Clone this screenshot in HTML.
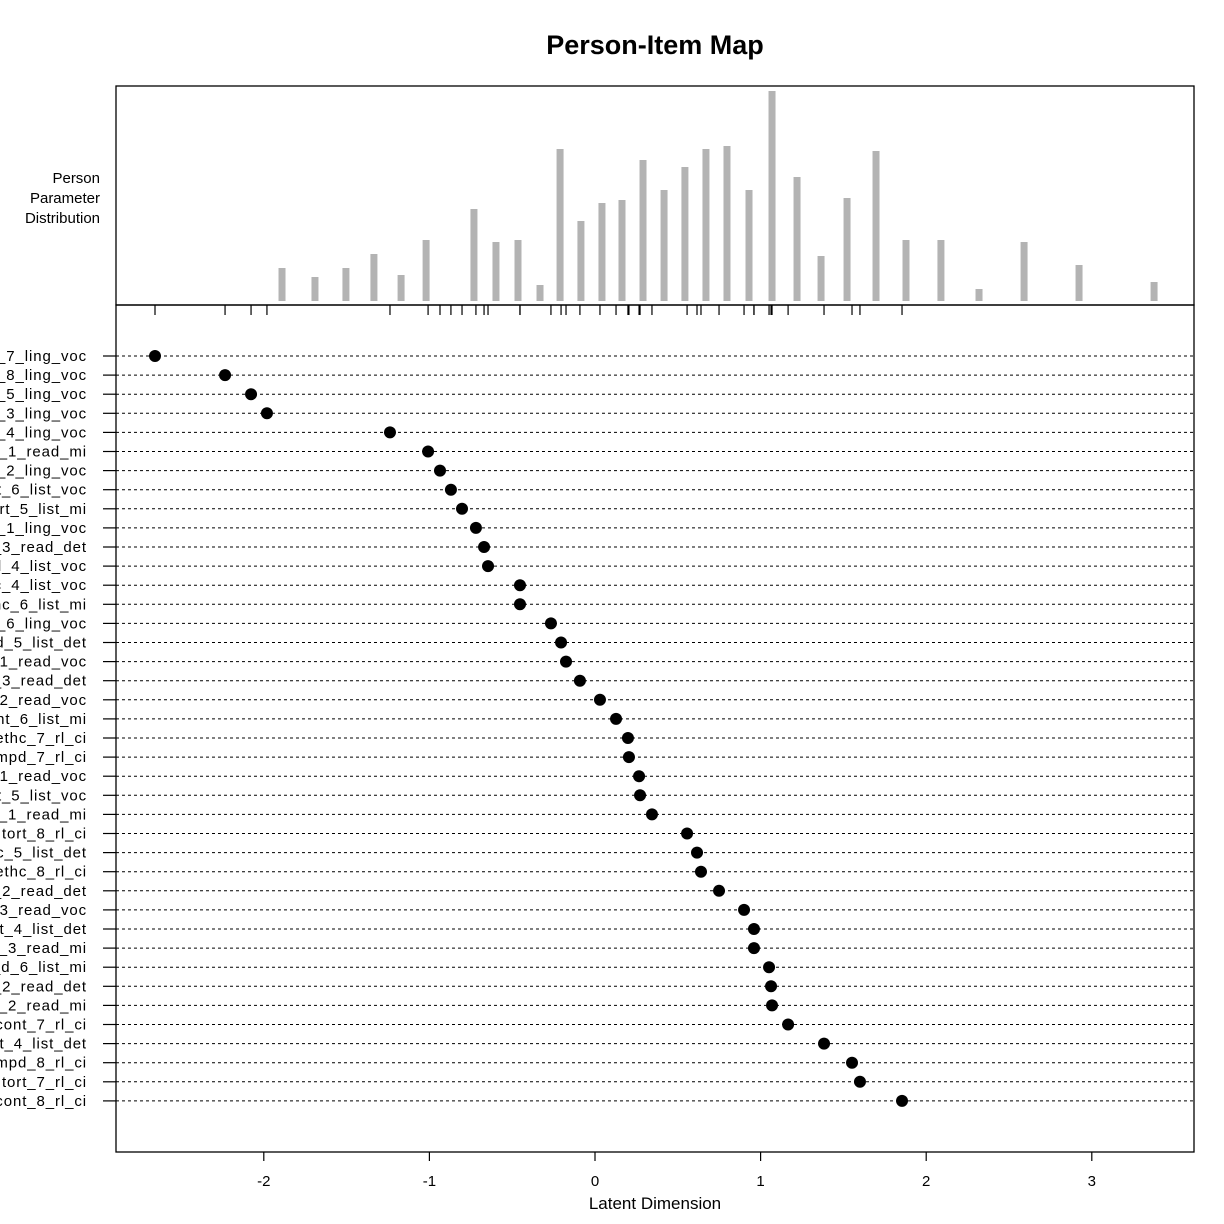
<!DOCTYPE html>
<html><head><meta charset="utf-8"><style>
body{margin:0;background:#fff;overflow:hidden;}
svg{display:block;font-family:"Liberation Sans",Arial,sans-serif;}
</style></head><body>
<svg id="chart" width="1224" height="1224" viewBox="0 0 1224 1224" xmlns="http://www.w3.org/2000/svg">
<text x="655" y="54" text-anchor="middle" font-size="27" font-weight="bold">Person-Item Map</text>
<rect x="116" y="86" width="1078" height="219" fill="none" stroke="#000" stroke-width="1.3"/>
<rect x="116" y="305" width="1078" height="847" fill="none" stroke="#000" stroke-width="1.3"/>
<g font-size="15" text-anchor="end">
<text x="100" y="183">Person</text><text x="100" y="203">Parameter</text><text x="100" y="223">Distribution</text>
</g>
<g id="bars"></g><g id="rug"></g><g id="items"></g><g id="xaxis"></g>
<text x="655" y="1209" text-anchor="middle" font-size="17">Latent Dimension</text>
</svg>
<script>
const itemLabels=["item_7_ling_voc","item_8_ling_voc","item_5_ling_voc","item_3_ling_voc","item_4_ling_voc","item_1_read_mi","item_2_ling_voc","item_t_6_list_voc","item_rt_5_list_mi","item_1_ling_voc","item_3_read_det","item_l_4_list_voc","item_c_4_list_voc","item_hc_6_list_mi","item_6_ling_voc","item_d_5_list_det","item_1_read_voc","item_3_read_det","item_2_read_voc","item_nt_6_list_mi","item_ethc_7_rl_ci","item_mpd_7_rl_ci","item_1_read_voc","item_t_5_list_voc","item_1_read_mi","item tort_8_rl_ci","item_c_5_list_det","item_ethc_8_rl_ci","item_2_read_det","item_3_read_voc","item_t_4_list_det","item_3_read_mi","item_d_6_list_mi","item_2_read_det","item_2_read_mi","item_cont_7_rl_ci","item_t_4_list_det","item_mpd_8_rl_ci","item tort_7_rl_ci","item_cont_8_rl_ci"];
const itemValues=[-2.657,-2.234,-2.077,-1.981,-1.238,-1.008,-0.936,-0.870,-0.803,-0.719,-0.670,-0.646,-0.453,-0.453,-0.266,-0.205,-0.175,-0.091,0.030,0.127,0.199,0.205,0.266,0.272,0.344,0.556,0.616,0.640,0.749,0.900,0.960,0.960,1.051,1.063,1.069,1.166,1.383,1.552,1.600,1.854];
const histTheta=[-1.890,-1.691,-1.504,-1.335,-1.171,-1.020,-0.731,-0.598,-0.465,-0.332,-0.211,-0.085,0.042,0.163,0.290,0.417,0.543,0.670,0.797,0.930,1.069,1.220,1.365,1.522,1.697,1.878,2.089,2.319,2.591,2.923,3.376];
const histCounts=[33,24,33,47,26,61,92,59,61,16,152,80,98,101,141,111,134,152,155,111,210,124,45,103,150,61,61,12,59,36,19];
const xTicks=[-2,-1,0,1,2,3];
const NS="http://www.w3.org/2000/svg";
const xs=v=>595+v*165.6;
const hy=c=>301-c*(210/210);
const rowY=i=>356+i*19.1;
function mk(t,a,p){const e=document.createElementNS(NS,t);for(const k in a)e.setAttribute(k,a[k]);p.appendChild(e);return e;}
const bars=document.getElementById('bars');
histTheta.forEach((t,i)=>{const r=mk('rect',{x:xs(t)-3.5,y:hy(histCounts[i]),width:7,height:301-hy(histCounts[i]),fill:'#b3b3b3'},bars);

});
const rug=document.getElementById('rug');
const items=document.getElementById('items');
itemValues.forEach((v,i)=>{
 const tk=mk('line',{x1:xs(v),x2:xs(v),y1:305,y2:315,stroke:'#000','stroke-width':1.2},rug);
 
 
 const y=rowY(i);
 const l=mk('line',{x1:116,x2:1194,y1:y,y2:y,stroke:'#000','stroke-width':1,'stroke-dasharray':'3,3'},items);
 
 
 const yt=mk('line',{x1:103,x2:116,y1:y,y2:y,stroke:'#000','stroke-width':1.2},items);
 
 
 const t=mk('text',{x:87,y:y+5,'text-anchor':'end','font-size':15,'letter-spacing':'0.9'},items);t.textContent=itemLabels[i];
 
 
 const c=mk('circle',{cx:xs(v),cy:y,r:6,fill:'#000'},items);
 
 
});
const ax=document.getElementById('xaxis');
xTicks.forEach(v=>{
 const l=mk('line',{x1:xs(v),x2:xs(v),y1:1152,y2:1161,stroke:'#000','stroke-width':1.2},ax);
 
 
 const t=mk('text',{x:xs(v),y:1186,'text-anchor':'middle','font-size':15},ax);t.textContent=v;
 
 
});
</script>
</body></html>
